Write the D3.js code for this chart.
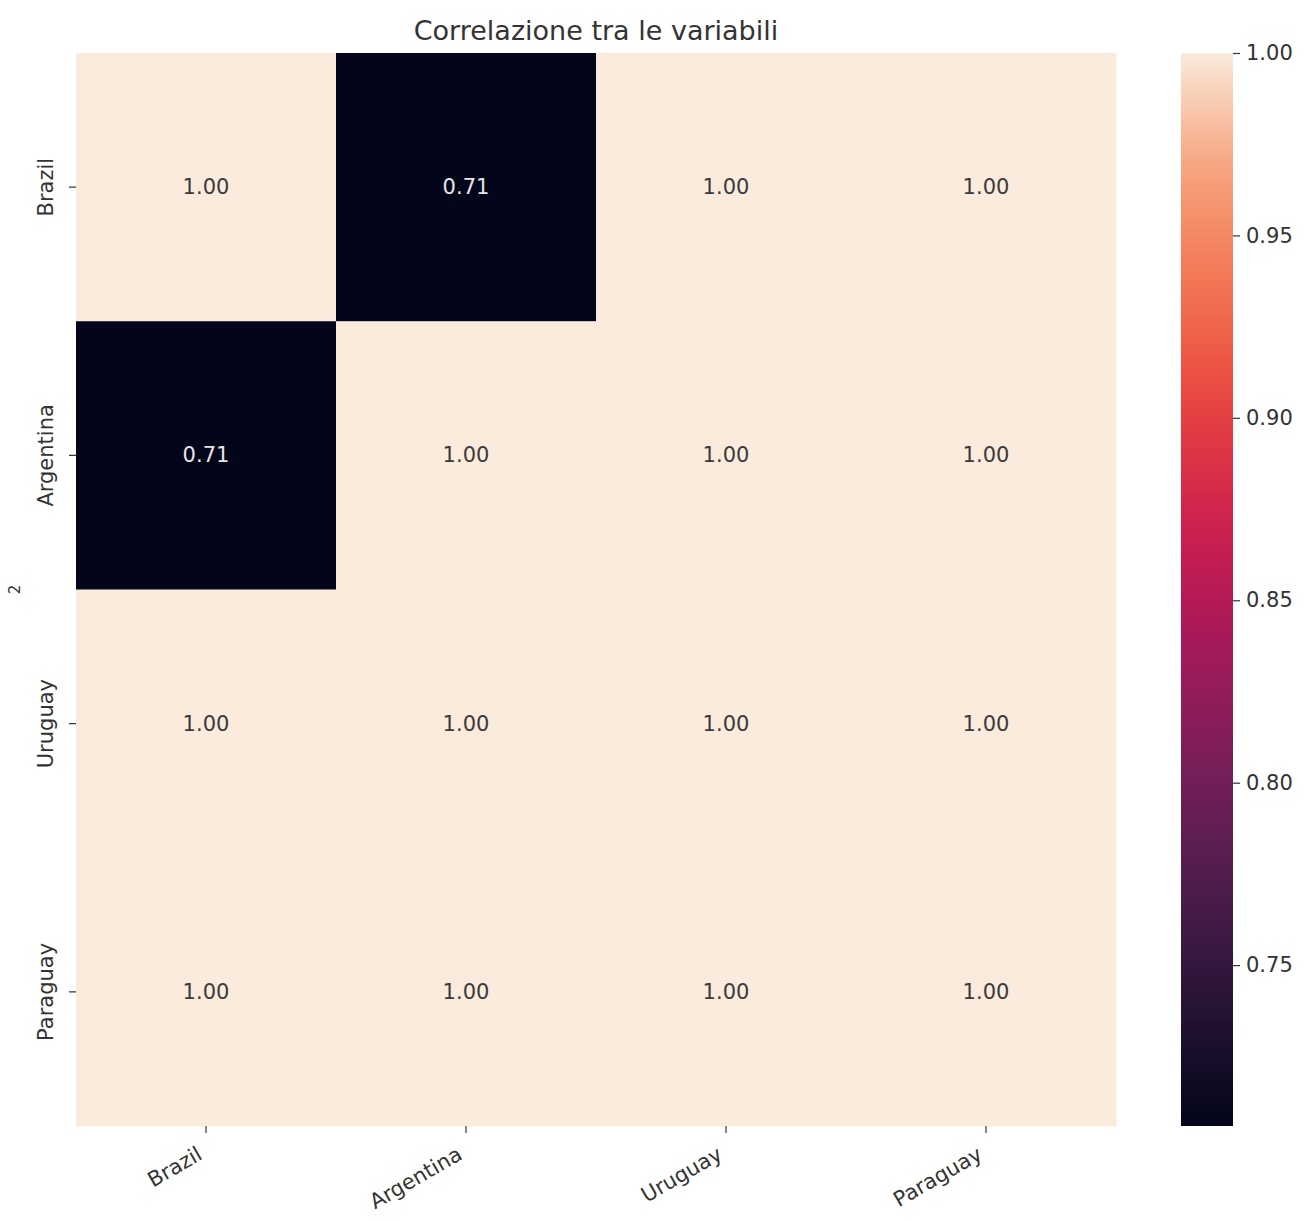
<!DOCTYPE html>
<html><head><meta charset="utf-8">
<script src="https://cdn.jsdelivr.net/npm/d3@7"></script>
<style>body{margin:0;background:#fff;font-family:"DejaVu Sans",sans-serif;}</style>
</head><body>
<svg id="chart" width="1309" height="1221"></svg>
<script>
const categories = ["Brazil","Argentina","Uruguay","Paraguay"];
const matrix = [
  [1.00, 0.7059, 1.00, 1.00],
  [0.7059, 1.00, 1.00, 1.00],
  [1.00, 1.00, 1.00, 1.00],
  [1.00, 1.00, 1.00, 1.00]
];
const colorbarTicks = [0.75, 0.80, 0.85, 0.90, 0.95, 1.00];
const title = "Correlazione tra le variabili";
const yLabel = "2";
const rocketStops = ["#03051a","#221331","#451c47","#6a1f56","#921c5b","#b91657","#d92847","#ed503e","#f47d57","#f6a47c","#faebdd"];

const vmin = d3.min(matrix.flat()), vmax = d3.max(matrix.flat());
const svg = d3.select("#chart");
const L = 76, R = 1116, T = 53, B = 1126;
const tickFs = 21;

const x = d3.scaleBand().domain(categories).range([L, R]).padding(0);
const y = d3.scaleBand().domain(categories).range([T, B]).padding(0);
const interp = d3.interpolateRgbBasis(rocketStops);
const color = d3.scaleSequential(interp).domain([vmin, vmax]);

const cells = [];
matrix.forEach((row, i) => row.forEach((v, j) => cells.push({r: categories[i], c: categories[j], v})));

svg.append("g").selectAll("rect").data(cells).join("rect")
  .attr("x", d => x(d.c)).attr("y", d => y(d.r))
  .attr("width", x.bandwidth()+0.5).attr("height", y.bandwidth()+0.5)
  .attr("fill", d => color(d.v));

svg.append("g").selectAll("text").data(cells).join("text")
  .attr("x", d => x(d.c) + x.bandwidth()/2)
  .attr("y", d => y(d.r) + y.bandwidth()/2)
  .attr("text-anchor", "middle").attr("dominant-baseline", "central")
  .attr("font-size", 21)
  .attr("fill", d => d.v < 0.85 ? "#e6e6e6" : "#3a3a3a")
  .text(d => d3.format(".2f")(d.v));

// x axis
const xAxis = svg.append("g").attr("transform", `translate(0,${B})`)
  .call(d3.axisBottom(x).tickSize(7).tickPadding(5));
xAxis.select(".domain").remove();
xAxis.selectAll("line").attr("stroke", "#333").attr("stroke-width", 1.2);
xAxis.selectAll("text").attr("font-size", tickFs).attr("fill", "#333")
  .attr("font-family", "DejaVu Sans")
  .attr("text-anchor", "end").attr("x", 0).attr("y", 0).attr("dy", "0.35em")
  .attr("transform", "translate(-6,26) rotate(-30)");

// y axis
const yAxis = svg.append("g").attr("transform", `translate(${L},0)`)
  .call(d3.axisLeft(y).tickSize(7).tickPadding(6));
yAxis.select(".domain").remove();
yAxis.selectAll("line").attr("stroke", "#333").attr("stroke-width", 1.2);
yAxis.selectAll("text").attr("font-size", tickFs).attr("fill", "#333")
  .attr("font-family", "DejaVu Sans")
  .attr("text-anchor", "middle")
  .attr("x", 0).attr("y", 0).attr("dy", "0.35em")
  .attr("transform", "translate(-30,0) rotate(-90)");

// y label
svg.append("text").attr("transform", `translate(15,${(T+B)/2}) rotate(-90)`)
  .attr("text-anchor", "middle").attr("dominant-baseline", "central")
  .attr("font-size", 15).attr("fill", "#333").text(yLabel);

// title
svg.append("text").attr("x", (L+R)/2).attr("y", 30)
  .attr("text-anchor", "middle").attr("dominant-baseline", "central")
  .attr("font-size", 27).attr("fill", "#333").text(title);

// colorbar
const cbX = 1181, cbW = 52;
const cy = d3.scaleLinear().domain([vmin, vmax]).range([B, T]);
const defs = svg.append("defs");
const grad = defs.append("linearGradient").attr("id", "cbg")
  .attr("x1", 0).attr("y1", 1).attr("x2", 0).attr("y2", 0);
d3.range(0, 1.0001, 0.02).forEach(t => grad.append("stop").attr("offset", t).attr("stop-color", interp(t)));
svg.append("rect").attr("x", cbX).attr("y", T).attr("width", cbW).attr("height", B - T).attr("fill", "url(#cbg)");
const cAxis = svg.append("g").attr("transform", `translate(${cbX+cbW},0)`)
  .call(d3.axisRight(cy).tickValues(colorbarTicks).tickFormat(d3.format(".2f")).tickSize(7).tickPadding(6));
cAxis.select(".domain").remove();
cAxis.selectAll("line").attr("stroke", "#333").attr("stroke-width", 1.2);
cAxis.selectAll("text").attr("font-size", tickFs).attr("fill", "#333").attr("font-family", "DejaVu Sans");
</script>
</body></html>
